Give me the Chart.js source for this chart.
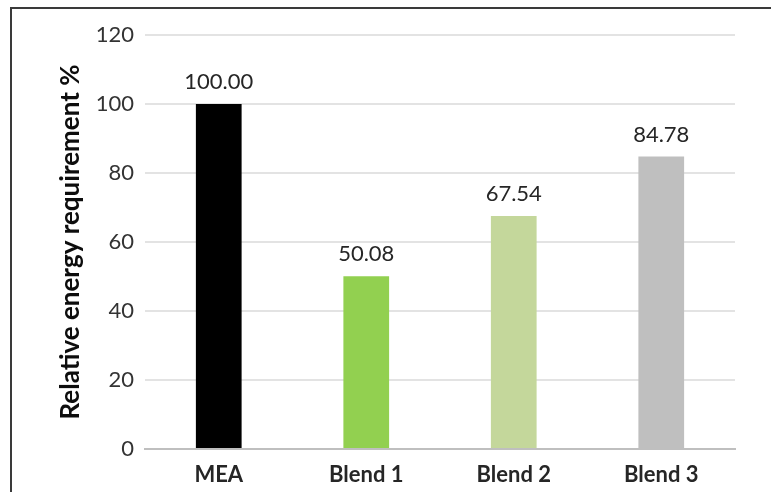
<!DOCTYPE html>
<html>
<head>
<meta charset="utf-8">
<script src="https://cdn.jsdelivr.net/npm/chart.js@4.4.1/dist/chart.umd.min.js"></script>
<style>
  html, body { margin: 0; padding: 0; background: #fff; }
  #wrap { position: relative; width: 771px; height: 492px; overflow: hidden; }
  #frame { position: absolute; left: 10px; top: 7px; width: 780px; height: 520px; border: 2px solid #3a3a3a; box-sizing: border-box; }
  canvas { position: absolute; left: 0; top: 0; }
</style>
</head>
<body>
<div id="wrap">
  <div id="frame"></div>
  <canvas id="chart" width="771" height="492"></canvas>
</div>
<script>
const categories = ["MEA", "Blend 1", "Blend 2", "Blend 3"];
const energyValues = [100.00, 50.08, 67.54, 84.78];
const barColors = ["#000000", "#92d050", "#c4d79b", "#bfbfbf"];
const yTicks = [0, 20, 40, 60, 80, 100, 120];

const fontFamily = "Lato, 'Open Sans', sans-serif";

// value labels above bars
const valueLabels = {
  id: "valueLabels",
  afterDatasetsDraw(chart) {
    const ctx = chart.ctx;
    const meta = chart.getDatasetMeta(0);
    ctx.save();
    ctx.font = "22px " + fontFamily;
    ctx.fillStyle = "#262626";
    ctx.textAlign = "center";
    ctx.textBaseline = "bottom";
    meta.data.forEach(function (bar, i) {
      ctx.fillText(energyValues[i].toFixed(2), bar.x, bar.y - 11);
    });
    ctx.restore();
  },
};

const ctx = document.getElementById("chart").getContext("2d");
const chart = new Chart(ctx, {
  type: "bar",
  data: {
    labels: categories,
    datasets: [
      {
        data: energyValues,
        backgroundColor: barColors,
        borderWidth: 0,
        categoryPercentage: 1,
        barPercentage: 0.31,
      },
    ],
  },
  options: {
    responsive: false,
    animation: false,
    layout: { padding: { left: 55, top: 35, right: 36, bottom: 0 } },
    plugins: {
      legend: { display: false },
      tooltip: { enabled: false },
    },
    scales: {
      x: {
        grid: { display: false, drawTicks: false },
        border: { color: "#bfbfbf", width: 2 },
        ticks: {
          color: "#262626",
          padding: 13,
          font: { family: fontFamily, size: 22, weight: "bold" },
        },
        afterFit(scale) { scale.height = 43; },
      },
      y: {
        min: 0,
        max: 120,
        afterBuildTicks(scale) {
          scale.ticks = yTicks.map(function (v) { return { value: v }; });
        },
        grid: { color: "#e3e3e3", lineWidth: 2, drawTicks: false },
        border: { display: false },
        ticks: {
          color: "#333333",
          padding: 11,
          font: { family: fontFamily, size: 22 },
        },
        title: {
          display: true,
          text: "Relative energy requirement %",
          color: "#0d0d0d",
          padding: 0,
          font: { family: fontFamily, size: 26, weight: "bold" },
        },
        afterFit(scale) { scale.width = 90; },
      },
    },
  },
  plugins: [valueLabels],
});
</script>
</body>
</html>
